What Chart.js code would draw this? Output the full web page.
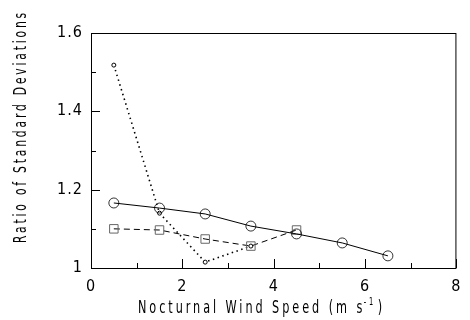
<!DOCTYPE html>
<html>
<head>
<meta charset="utf-8">
<script src="https://cdn.jsdelivr.net/npm/chart.js@4/dist/chart.umd.min.js"></script>
<style>
  html, body { margin: 0; padding: 0; background: #fff; }
  #wrap { width: 470px; height: 320px; }
</style>
</head>
<body>
<div id="wrap"><canvas id="chart"></canvas></div>
<script>
// data
const windSpeed = [0.5, 1.5, 2.5, 3.5, 4.5, 5.5, 6.5];
const solidRatio = [1.166, 1.153, 1.138, 1.107, 1.087, 1.064, 1.031];

const dashedSpeed = [0.5, 1.5, 2.5, 3.5, 4.5];
const dashedRatio = [1.100, 1.097, 1.074, 1.056, 1.097];

const dottedSpeed = [0.5, 1.5, 2.5, 3.5];
const dottedRatio = [1.518, 1.140, 1.015, 1.056];

const xTicks = [0, 2, 4, 6, 8];
const yTicks = [1, 1.2, 1.4, 1.6];

const xTitle = 'Nocturnal Wind Speed (m s';
const xTitleSup = '-1';
const xTitleEnd = ')';
const yTitle = 'Ratio of Standard Deviations';

const FONT = '"DejaVu Sans Condensed", "Liberation Sans Narrow", "Liberation Sans", sans-serif';

const toPoints = (xs, ys) => xs.map((x, i) => ({ x: x, y: ys[i] }));

// box, inward ticks and axis titles
const framePlugin = {
    id: 'frame',
    beforeDraw(chart) {
        chart.ctx.letterSpacing = '1px';
    },
    afterDraw(chart) {
        const ctx = chart.ctx;
        const a = chart.chartArea;
        const xs = chart.scales.x;
        const ys = chart.scales.y;
        ctx.save();
        ctx.strokeStyle = '#000';
        ctx.lineWidth = 1;
        ctx.strokeRect(a.left + 0.5, a.top + 0.5, a.right - a.left - 1, a.bottom - a.top);

        ctx.beginPath();
        for (let v = 0; v <= 8; v++) {
            const px = Math.round(xs.getPixelForValue(v)) + 0.5;
            const len = v % 2 === 0 ? 9 : 5;
            ctx.moveTo(px, a.bottom);
            ctx.lineTo(px, a.bottom - len);
        }
        for (let i = 0; i <= 6; i++) {
            const v = 1 + i / 10;
            const py = Math.round(ys.getPixelForValue(v)) + 0.5;
            const len = i % 2 === 0 ? 9 : 5;
            ctx.moveTo(a.left, py);
            ctx.lineTo(a.left + len, py);
        }
        ctx.stroke();

        ctx.fillStyle = '#000';
        ctx.textAlign = 'left';
        ctx.textBaseline = 'alphabetic';
        ctx.letterSpacing = '4px';

        // x title, squeezed to the width it has in the figure
        ctx.font = '17px ' + FONT;
        const w1 = ctx.measureText(xTitle).width;
        ctx.font = '10px ' + FONT;
        const w2 = ctx.measureText(xTitleSup).width;
        ctx.font = '17px ' + FONT;
        const w3 = ctx.measureText(xTitleEnd).width;
        ctx.save();
        ctx.translate(138, 313);
        ctx.scale(247 / (w1 + w2 + w3), 1);
        ctx.fillText(xTitle, 0, 0);
        ctx.font = '10px ' + FONT;
        ctx.fillText(xTitleSup, w1 - 2, -8);
        ctx.font = '17px ' + FONT;
        ctx.fillText(xTitleEnd, w1 + w2, 0);
        ctx.restore();

        // y title
        ctx.font = '17px ' + FONT;
        const wy = ctx.measureText(yTitle).width;
        ctx.save();
        ctx.translate(26, 243);
        ctx.rotate(-Math.PI / 2);
        ctx.scale(233 / wy, 1);
        ctx.fillText(yTitle, 0, 0);
        ctx.restore();
        ctx.restore();
    }
};

new Chart(document.getElementById('chart'), {
    type: 'line',
    data: {
        datasets: [
            {
                label: 'solid',
                data: toPoints(windSpeed, solidRatio),
                borderColor: '#000',
                borderWidth: 1,
                pointStyle: 'circle',
                pointRadius: 5,
                pointBackgroundColor: 'rgba(255,255,255,0)',
                pointBorderColor: '#000',
                pointBorderWidth: 0.8
            },
            {
                label: 'dashed',
                data: toPoints(dashedSpeed, dashedRatio),
                borderColor: '#000',
                borderWidth: 1,
                borderDash: [6, 4],
                pointStyle: 'rect',
                pointRadius: 6,
                pointBackgroundColor: 'rgba(255,255,255,0)',
                pointBorderColor: '#666',
                pointBorderWidth: 1
            },
            {
                label: 'dotted',
                data: toPoints(dottedSpeed, dottedRatio),
                borderColor: '#000',
                borderWidth: 1.6,
                borderDash: [1.5, 3.5],
                pointStyle: 'circle',
                pointRadius: 2,
                pointBackgroundColor: '#fff',
                pointBorderColor: '#000',
                pointBorderWidth: 1
            }
        ]
    },
    options: {
        responsive: true,
        maintainAspectRatio: false,
        animation: false,
        events: [],
        layout: { padding: { top: 33, right: 2, left: 0, bottom: 0 } },
        plugins: {
            legend: { display: false },
            tooltip: { enabled: false }
        },
        scales: {
            x: {
                type: 'linear',
                min: 0,
                max: 8,
                afterFit: s => { s.height = 52; },
                afterBuildTicks: s => { s.ticks = xTicks.map(v => ({ value: v })); },
                grid: { display: false, drawTicks: false, tickLength: 0 },
                border: { display: false },
                ticks: {
                    color: '#000',
                    padding: 9,
                    maxRotation: 0,
                    font: { family: FONT, size: 16 }
                }
            },
            y: {
                type: 'linear',
                min: 1,
                max: 1.6,
                afterFit: s => { s.width = 91; },
                afterBuildTicks: s => { s.ticks = yTicks.map(v => ({ value: v })); },
                grid: { display: false, drawTicks: false, tickLength: 0 },
                border: { display: false },
                ticks: {
                    color: '#000',
                    padding: 8,
                    font: { family: FONT, size: 16 },
                    callback: v => (v === 1 ? '1' : v.toFixed(1))
                }
            }
        }
    },
    plugins: [framePlugin]
});
</script>
</body>
</html>
